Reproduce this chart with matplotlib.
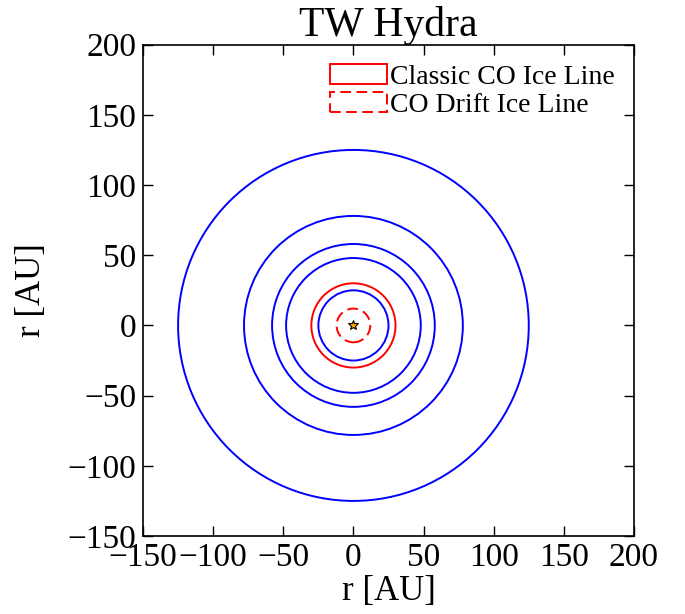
import matplotlib
matplotlib.use("Agg")
import matplotlib.pyplot as plt
from matplotlib.patches import Circle

# ring radii [AU]
ring_radii = [25, 48, 58, 78, 125]
classic_ice_line = 30
drift_ice_line = 12

plt.rcParams['font.family'] = ['Liberation Serif', 'DejaVu Serif']

fig = plt.figure(figsize=(6.85, 6.14), dpi=100)
ax = fig.add_axes([0.2088, 0.127, 0.7167, 0.8003])

for r in ring_radii:
    ax.add_patch(Circle((0, 0), r, fill=False, edgecolor='blue', lw=1.4))

classic = Circle((0, 0), classic_ice_line, fill=False, edgecolor='red', lw=1.4,
                 label='Classic CO Ice Line')
drift = Circle((0, 0), drift_ice_line, fill=False, edgecolor='red', lw=1.4,
               ls=(0, (5.5, 2.8)), label='CO Drift Ice Line')
ax.add_patch(classic)
ax.add_patch(drift)

ax.plot(0, 0, marker='*', color='orange', markeredgecolor='black',
        markersize=7, markeredgewidth=0.8)

ax.set_xlim(-150, 200)
ax.set_ylim(-150, 200)
ax.set_xticks(range(-150, 201, 50))
ax.set_yticks(range(-150, 201, 50))
ax.tick_params(direction='in', top=True, right=True, length=7, width=1,
               labelsize=24, pad=5)
for s in ax.spines.values():
    s.set_linewidth(1.2)

ax.set_xlabel('r [AU]', fontsize=25, labelpad=1)
ax.set_ylabel('r [AU]', fontsize=25, labelpad=14)
ax.set_title('TW Hydra', fontsize=30, pad=6)

ax.legend(handles=[classic, drift], loc='upper right', frameon=False,
          fontsize=20, handlelength=2.05, handletextpad=0.1,
          labelspacing=0.1, borderaxespad=0.3)

fig.savefig('out.png', dpi=100)
